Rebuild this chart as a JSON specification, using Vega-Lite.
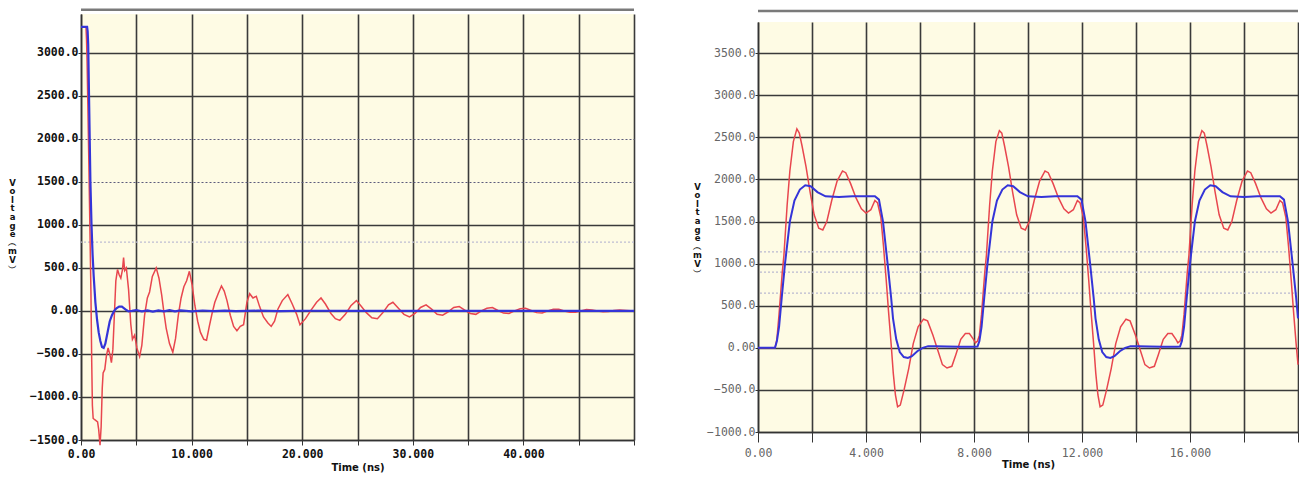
{
  "$schema": "https://vega.github.io/schema/vega-lite/v6.json",
  "padding": {"left": 7, "top": 8, "right": 0, "bottom": 0},
  "autosize": {"type": "pad"},
  "background": "white",
  "config": {"view": {"stroke": null, "fill": "#FEFBE4"}},
  "bounds": "flush",
  "center": true,
  "spacing": 124,
  "datasets": {
    "left": [
      {"t": 0, "v": 3300, "s": "red"}, {"t": 0.45, "v": 3300, "s": "red"}, {"t": 0.5, "v": 3150, "s": "red"}, {"t": 0.55, "v": 2900, "s": "red"},
      {"t": 0.62, "v": 2400, "s": "red"}, {"t": 0.7, "v": 1800, "s": "red"}, {"t": 0.8, "v": 1000, "s": "red"}, {"t": 0.9, "v": 200, "s": "red"},
      {"t": 0.97, "v": -600, "s": "red"}, {"t": 1.03, "v": -1100, "s": "red"}, {"t": 1.1, "v": -1250, "s": "red"}, {"t": 1.3, "v": -1270, "s": "red"},
      {"t": 1.5, "v": -1290, "s": "red"}, {"t": 1.6, "v": -1380, "s": "red"}, {"t": 1.72, "v": -1560, "s": "red"}, {"t": 1.82, "v": -1350, "s": "red"},
      {"t": 1.92, "v": -900, "s": "red"}, {"t": 2.0, "v": -720, "s": "red"}, {"t": 2.15, "v": -680, "s": "red"}, {"t": 2.3, "v": -520, "s": "red"},
      {"t": 2.45, "v": -430, "s": "red"}, {"t": 2.6, "v": -500, "s": "red"}, {"t": 2.75, "v": -600, "s": "red"}, {"t": 2.88, "v": -450, "s": "red"},
      {"t": 3.0, "v": -100, "s": "red"}, {"t": 3.15, "v": 350, "s": "red"}, {"t": 3.3, "v": 480, "s": "red"}, {"t": 3.45, "v": 420, "s": "red"},
      {"t": 3.6, "v": 380, "s": "red"}, {"t": 3.75, "v": 480, "s": "red"}, {"t": 3.85, "v": 620, "s": "red"}, {"t": 3.95, "v": 470, "s": "red"},
      {"t": 4.1, "v": 500, "s": "red"}, {"t": 4.3, "v": 250, "s": "red"}, {"t": 4.5, "v": -150, "s": "red"}, {"t": 4.65, "v": -330, "s": "red"},
      {"t": 4.85, "v": -280, "s": "red"}, {"t": 5.05, "v": -430, "s": "red"}, {"t": 5.3, "v": -530, "s": "red"}, {"t": 5.5, "v": -400, "s": "red"},
      {"t": 5.75, "v": -50, "s": "red"}, {"t": 6.0, "v": 150, "s": "red"}, {"t": 6.2, "v": 220, "s": "red"}, {"t": 6.45, "v": 400, "s": "red"},
      {"t": 6.8, "v": 500, "s": "red"}, {"t": 7.05, "v": 380, "s": "red"}, {"t": 7.3, "v": 180, "s": "red"}, {"t": 7.5, "v": -20, "s": "red"},
      {"t": 7.7, "v": -200, "s": "red"}, {"t": 8.0, "v": -380, "s": "red"}, {"t": 8.3, "v": -480, "s": "red"}, {"t": 8.55, "v": -320, "s": "red"},
      {"t": 8.8, "v": -50, "s": "red"}, {"t": 9.05, "v": 150, "s": "red"}, {"t": 9.3, "v": 280, "s": "red"}, {"t": 9.55, "v": 350, "s": "red"},
      {"t": 9.8, "v": 460, "s": "red"}, {"t": 10.05, "v": 300, "s": "red"}, {"t": 10.3, "v": 60, "s": "red"}, {"t": 10.55, "v": -120, "s": "red"},
      {"t": 10.8, "v": -250, "s": "red"}, {"t": 11.1, "v": -330, "s": "red"}, {"t": 11.35, "v": -340, "s": "red"}, {"t": 11.6, "v": -180, "s": "red"},
      {"t": 11.85, "v": -30, "s": "red"}, {"t": 12.1, "v": 100, "s": "red"}, {"t": 12.4, "v": 200, "s": "red"}, {"t": 12.7, "v": 290, "s": "red"},
      {"t": 12.95, "v": 230, "s": "red"}, {"t": 13.2, "v": 120, "s": "red"}, {"t": 13.5, "v": -50, "s": "red"}, {"t": 13.8, "v": -180, "s": "red"},
      {"t": 14.1, "v": -230, "s": "red"}, {"t": 14.4, "v": -180, "s": "red"}, {"t": 14.7, "v": -160, "s": "red"}, {"t": 15.0, "v": 100, "s": "red"},
      {"t": 15.25, "v": 200, "s": "red"}, {"t": 15.55, "v": 150, "s": "red"}, {"t": 15.85, "v": 170, "s": "red"}, {"t": 16.15, "v": 50, "s": "red"},
      {"t": 16.5, "v": -70, "s": "red"}, {"t": 16.9, "v": -140, "s": "red"}, {"t": 17.2, "v": -180, "s": "red"}, {"t": 17.5, "v": -120, "s": "red"},
      {"t": 17.8, "v": 20, "s": "red"}, {"t": 18.2, "v": 120, "s": "red"}, {"t": 18.7, "v": 190, "s": "red"}, {"t": 19.1, "v": 80, "s": "red"},
      {"t": 19.5, "v": -40, "s": "red"}, {"t": 19.8, "v": -160, "s": "red"}, {"t": 20.3, "v": -90, "s": "red"}, {"t": 20.8, "v": 10, "s": "red"},
      {"t": 21.3, "v": 100, "s": "red"}, {"t": 21.7, "v": 150, "s": "red"}, {"t": 22.1, "v": 80, "s": "red"}, {"t": 22.6, "v": -30, "s": "red"},
      {"t": 23.0, "v": -90, "s": "red"}, {"t": 23.4, "v": -110, "s": "red"}, {"t": 23.9, "v": -40, "s": "red"}, {"t": 24.4, "v": 60, "s": "red"},
      {"t": 24.9, "v": 120, "s": "red"}, {"t": 25.3, "v": 60, "s": "red"}, {"t": 25.8, "v": -20, "s": "red"}, {"t": 26.3, "v": -80, "s": "red"},
      {"t": 26.8, "v": -90, "s": "red"}, {"t": 27.3, "v": -20, "s": "red"}, {"t": 27.8, "v": 70, "s": "red"}, {"t": 28.2, "v": 100, "s": "red"},
      {"t": 28.7, "v": 30, "s": "red"}, {"t": 29.2, "v": -40, "s": "red"}, {"t": 29.7, "v": -70, "s": "red"}, {"t": 30.2, "v": -30, "s": "red"},
      {"t": 30.7, "v": 40, "s": "red"}, {"t": 31.2, "v": 70, "s": "red"}, {"t": 31.7, "v": 20, "s": "red"}, {"t": 32.2, "v": -40, "s": "red"},
      {"t": 32.7, "v": -50, "s": "red"}, {"t": 33.2, "v": -10, "s": "red"}, {"t": 33.7, "v": 40, "s": "red"}, {"t": 34.2, "v": 50, "s": "red"},
      {"t": 34.7, "v": 10, "s": "red"}, {"t": 35.2, "v": -30, "s": "red"}, {"t": 35.7, "v": -40, "s": "red"}, {"t": 36.2, "v": 0, "s": "red"},
      {"t": 36.7, "v": 30, "s": "red"}, {"t": 37.2, "v": 40, "s": "red"}, {"t": 37.7, "v": 5, "s": "red"}, {"t": 38.2, "v": -25, "s": "red"},
      {"t": 38.7, "v": -30, "s": "red"}, {"t": 39.2, "v": 0, "s": "red"}, {"t": 39.7, "v": 25, "s": "red"}, {"t": 40.2, "v": 30, "s": "red"},
      {"t": 40.7, "v": 5, "s": "red"}, {"t": 41.2, "v": -20, "s": "red"}, {"t": 41.7, "v": -25, "s": "red"}, {"t": 42.2, "v": 0, "s": "red"},
      {"t": 42.7, "v": 20, "s": "red"}, {"t": 43.2, "v": 20, "s": "red"}, {"t": 43.7, "v": 0, "s": "red"}, {"t": 44.2, "v": -15, "s": "red"},
      {"t": 44.7, "v": -15, "s": "red"}, {"t": 45.2, "v": 0, "s": "red"}, {"t": 45.7, "v": 15, "s": "red"}, {"t": 46.2, "v": 12, "s": "red"},
      {"t": 46.7, "v": 0, "s": "red"}, {"t": 47.2, "v": -10, "s": "red"}, {"t": 47.7, "v": -8, "s": "red"}, {"t": 48.2, "v": 5, "s": "red"},
      {"t": 48.7, "v": 10, "s": "red"}, {"t": 49.3, "v": 5, "s": "red"}, {"t": 50, "v": 0, "s": "red"},
      {"t": 0, "v": 3300, "s": "blue"}, {"t": 0.55, "v": 3300, "s": "blue"}, {"t": 0.6, "v": 3250, "s": "blue"}, {"t": 0.65, "v": 3100, "s": "blue"},
      {"t": 0.75, "v": 2300, "s": "blue"}, {"t": 0.85, "v": 1500, "s": "blue"}, {"t": 0.95, "v": 1000, "s": "blue"}, {"t": 1.05, "v": 650, "s": "blue"},
      {"t": 1.15, "v": 400, "s": "blue"}, {"t": 1.3, "v": 100, "s": "blue"}, {"t": 1.45, "v": -100, "s": "blue"}, {"t": 1.6, "v": -250, "s": "blue"},
      {"t": 1.75, "v": -350, "s": "blue"}, {"t": 1.9, "v": -420, "s": "blue"}, {"t": 2.05, "v": -430, "s": "blue"}, {"t": 2.2, "v": -380, "s": "blue"},
      {"t": 2.4, "v": -250, "s": "blue"}, {"t": 2.6, "v": -120, "s": "blue"}, {"t": 2.8, "v": -50, "s": "blue"}, {"t": 3.0, "v": 0, "s": "blue"},
      {"t": 3.2, "v": 30, "s": "blue"}, {"t": 3.45, "v": 50, "s": "blue"}, {"t": 3.7, "v": 50, "s": "blue"}, {"t": 3.9, "v": 30, "s": "blue"},
      {"t": 4.1, "v": 10, "s": "blue"}, {"t": 4.3, "v": -5, "s": "blue"}, {"t": 4.6, "v": 0, "s": "blue"}, {"t": 5, "v": 10, "s": "blue"},
      {"t": 5.5, "v": -5, "s": "blue"}, {"t": 6, "v": 5, "s": "blue"}, {"t": 6.5, "v": -8, "s": "blue"}, {"t": 7, "v": 6, "s": "blue"},
      {"t": 7.5, "v": -5, "s": "blue"}, {"t": 8, "v": 8, "s": "blue"}, {"t": 8.5, "v": -6, "s": "blue"}, {"t": 9, "v": 5, "s": "blue"},
      {"t": 10, "v": -5, "s": "blue"}, {"t": 11, "v": 5, "s": "blue"}, {"t": 12, "v": -3, "s": "blue"}, {"t": 13, "v": 4, "s": "blue"},
      {"t": 14, "v": -3, "s": "blue"}, {"t": 16, "v": 3, "s": "blue"}, {"t": 18, "v": -2, "s": "blue"}, {"t": 20, "v": 2, "s": "blue"},
      {"t": 25, "v": 0, "s": "blue"}, {"t": 30, "v": 0, "s": "blue"}, {"t": 35, "v": 0, "s": "blue"}, {"t": 40, "v": 0, "s": "blue"},
      {"t": 45, "v": 0, "s": "blue"}, {"t": 50, "v": 0, "s": "blue"}
    ],
    "right": [
      {"t": 0, "v": 0, "s": "blue"}, {"t": 0.63, "v": 0, "s": "blue"}, {"t": 0.7, "v": 80, "s": "blue"}, {"t": 0.78, "v": 250, "s": "blue"},
      {"t": 0.88, "v": 600, "s": "blue"}, {"t": 1.0, "v": 1000, "s": "blue"}, {"t": 1.18, "v": 1500, "s": "blue"}, {"t": 1.35, "v": 1750, "s": "blue"},
      {"t": 1.55, "v": 1880, "s": "blue"}, {"t": 1.75, "v": 1930, "s": "blue"}, {"t": 1.95, "v": 1920, "s": "blue"}, {"t": 2.2, "v": 1850, "s": "blue"},
      {"t": 2.5, "v": 1800, "s": "blue"}, {"t": 3.0, "v": 1790, "s": "blue"}, {"t": 3.5, "v": 1800, "s": "blue"}, {"t": 4.0, "v": 1800, "s": "blue"},
      {"t": 4.33, "v": 1800, "s": "blue"}, {"t": 4.48, "v": 1760, "s": "blue"}, {"t": 4.63, "v": 1500, "s": "blue"}, {"t": 4.8, "v": 1000, "s": "blue"},
      {"t": 4.93, "v": 600, "s": "blue"}, {"t": 5.0, "v": 350, "s": "blue"}, {"t": 5.12, "v": 100, "s": "blue"}, {"t": 5.25, "v": -50, "s": "blue"},
      {"t": 5.4, "v": -110, "s": "blue"}, {"t": 5.55, "v": -120, "s": "blue"}, {"t": 5.7, "v": -100, "s": "blue"}, {"t": 5.9, "v": -40, "s": "blue"},
      {"t": 6.1, "v": 0, "s": "blue"}, {"t": 6.3, "v": 20, "s": "blue"}, {"t": 6.6, "v": 20, "s": "blue"}, {"t": 7.0, "v": 15, "s": "blue"},
      {"t": 7.5, "v": 12, "s": "blue"}, {"t": 8.0, "v": 12, "s": "blue"}, {"t": 8.13, "v": 15, "s": "blue"},
      {"t": 8.2, "v": 80, "s": "blue"}, {"t": 8.28, "v": 250, "s": "blue"}, {"t": 8.38, "v": 600, "s": "blue"}, {"t": 8.5, "v": 1000, "s": "blue"},
      {"t": 8.68, "v": 1500, "s": "blue"}, {"t": 8.85, "v": 1750, "s": "blue"}, {"t": 9.05, "v": 1880, "s": "blue"}, {"t": 9.25, "v": 1930, "s": "blue"},
      {"t": 9.45, "v": 1920, "s": "blue"}, {"t": 9.7, "v": 1850, "s": "blue"}, {"t": 10.0, "v": 1800, "s": "blue"}, {"t": 10.5, "v": 1790, "s": "blue"},
      {"t": 11.0, "v": 1800, "s": "blue"}, {"t": 11.5, "v": 1800, "s": "blue"}, {"t": 11.83, "v": 1800, "s": "blue"}, {"t": 11.98, "v": 1760, "s": "blue"},
      {"t": 12.13, "v": 1500, "s": "blue"}, {"t": 12.3, "v": 1000, "s": "blue"}, {"t": 12.43, "v": 600, "s": "blue"}, {"t": 12.5, "v": 350, "s": "blue"},
      {"t": 12.62, "v": 100, "s": "blue"}, {"t": 12.75, "v": -50, "s": "blue"}, {"t": 12.9, "v": -110, "s": "blue"}, {"t": 13.05, "v": -120, "s": "blue"},
      {"t": 13.2, "v": -100, "s": "blue"}, {"t": 13.4, "v": -40, "s": "blue"}, {"t": 13.6, "v": 0, "s": "blue"}, {"t": 13.8, "v": 20, "s": "blue"},
      {"t": 14.1, "v": 20, "s": "blue"}, {"t": 14.5, "v": 15, "s": "blue"}, {"t": 15.0, "v": 12, "s": "blue"}, {"t": 15.5, "v": 12, "s": "blue"},
      {"t": 15.63, "v": 15, "s": "blue"},
      {"t": 15.7, "v": 80, "s": "blue"}, {"t": 15.78, "v": 250, "s": "blue"}, {"t": 15.88, "v": 600, "s": "blue"}, {"t": 16.0, "v": 1000, "s": "blue"},
      {"t": 16.18, "v": 1500, "s": "blue"}, {"t": 16.35, "v": 1750, "s": "blue"}, {"t": 16.55, "v": 1880, "s": "blue"}, {"t": 16.75, "v": 1930, "s": "blue"},
      {"t": 16.95, "v": 1920, "s": "blue"}, {"t": 17.2, "v": 1850, "s": "blue"}, {"t": 17.5, "v": 1800, "s": "blue"}, {"t": 18.0, "v": 1790, "s": "blue"},
      {"t": 18.5, "v": 1800, "s": "blue"}, {"t": 19.0, "v": 1800, "s": "blue"}, {"t": 19.33, "v": 1800, "s": "blue"}, {"t": 19.48, "v": 1760, "s": "blue"},
      {"t": 19.63, "v": 1500, "s": "blue"}, {"t": 19.8, "v": 1000, "s": "blue"}, {"t": 19.93, "v": 600, "s": "blue"}, {"t": 20.0, "v": 350, "s": "blue"},
      {"t": 0, "v": 0, "s": "red"}, {"t": 0.63, "v": 0, "s": "red"}, {"t": 0.7, "v": 100, "s": "red"}, {"t": 0.78, "v": 400, "s": "red"},
      {"t": 0.9, "v": 900, "s": "red"}, {"t": 0.96, "v": 1100, "s": "red"}, {"t": 1.08, "v": 1700, "s": "red"}, {"t": 1.18, "v": 2100, "s": "red"},
      {"t": 1.31, "v": 2450, "s": "red"}, {"t": 1.44, "v": 2600, "s": "red"}, {"t": 1.53, "v": 2550, "s": "red"}, {"t": 1.63, "v": 2400, "s": "red"},
      {"t": 1.78, "v": 2150, "s": "red"}, {"t": 1.93, "v": 1850, "s": "red"}, {"t": 2.08, "v": 1580, "s": "red"}, {"t": 2.25, "v": 1420, "s": "red"},
      {"t": 2.4, "v": 1400, "s": "red"}, {"t": 2.55, "v": 1500, "s": "red"}, {"t": 2.73, "v": 1750, "s": "red"}, {"t": 2.93, "v": 1980, "s": "red"},
      {"t": 3.13, "v": 2100, "s": "red"}, {"t": 3.25, "v": 2080, "s": "red"}, {"t": 3.43, "v": 1950, "s": "red"}, {"t": 3.63, "v": 1780, "s": "red"},
      {"t": 3.83, "v": 1650, "s": "red"}, {"t": 4.0, "v": 1600, "s": "red"}, {"t": 4.18, "v": 1640, "s": "red"}, {"t": 4.33, "v": 1750, "s": "red"},
      {"t": 4.43, "v": 1720, "s": "red"}, {"t": 4.55, "v": 1550, "s": "red"}, {"t": 4.65, "v": 1200, "s": "red"}, {"t": 4.75, "v": 800, "s": "red"},
      {"t": 4.83, "v": 450, "s": "red"}, {"t": 4.93, "v": 50, "s": "red"}, {"t": 5.01, "v": -300, "s": "red"}, {"t": 5.09, "v": -560, "s": "red"},
      {"t": 5.17, "v": -700, "s": "red"}, {"t": 5.27, "v": -680, "s": "red"}, {"t": 5.41, "v": -500, "s": "red"}, {"t": 5.58, "v": -250, "s": "red"},
      {"t": 5.75, "v": 50, "s": "red"}, {"t": 5.93, "v": 250, "s": "red"}, {"t": 6.13, "v": 340, "s": "red"}, {"t": 6.28, "v": 320, "s": "red"},
      {"t": 6.48, "v": 150, "s": "red"}, {"t": 6.68, "v": -50, "s": "red"}, {"t": 6.83, "v": -200, "s": "red"}, {"t": 7.0, "v": -240, "s": "red"},
      {"t": 7.18, "v": -220, "s": "red"}, {"t": 7.33, "v": -80, "s": "red"}, {"t": 7.51, "v": 100, "s": "red"}, {"t": 7.68, "v": 170, "s": "red"},
      {"t": 7.83, "v": 170, "s": "red"}, {"t": 7.98, "v": 100, "s": "red"}, {"t": 8.05, "v": 60, "s": "red"}, {"t": 8.13, "v": 80, "s": "red"},
      {"t": 8.2, "v": 150, "s": "red"}, {"t": 8.28, "v": 400, "s": "red"}, {"t": 8.4, "v": 900, "s": "red"}, {"t": 8.46, "v": 1100, "s": "red"},
      {"t": 8.58, "v": 1700, "s": "red"}, {"t": 8.68, "v": 2100, "s": "red"}, {"t": 8.81, "v": 2450, "s": "red"}, {"t": 8.94, "v": 2580, "s": "red"},
      {"t": 9.03, "v": 2550, "s": "red"}, {"t": 9.13, "v": 2400, "s": "red"}, {"t": 9.28, "v": 2150, "s": "red"}, {"t": 9.43, "v": 1850, "s": "red"},
      {"t": 9.58, "v": 1580, "s": "red"}, {"t": 9.75, "v": 1420, "s": "red"}, {"t": 9.9, "v": 1400, "s": "red"}, {"t": 10.05, "v": 1500, "s": "red"},
      {"t": 10.23, "v": 1750, "s": "red"}, {"t": 10.43, "v": 1980, "s": "red"}, {"t": 10.63, "v": 2100, "s": "red"}, {"t": 10.75, "v": 2080, "s": "red"},
      {"t": 10.93, "v": 1950, "s": "red"}, {"t": 11.13, "v": 1780, "s": "red"}, {"t": 11.33, "v": 1650, "s": "red"}, {"t": 11.5, "v": 1600, "s": "red"},
      {"t": 11.68, "v": 1640, "s": "red"}, {"t": 11.83, "v": 1750, "s": "red"}, {"t": 11.93, "v": 1720, "s": "red"}, {"t": 12.05, "v": 1550, "s": "red"},
      {"t": 12.15, "v": 1200, "s": "red"}, {"t": 12.25, "v": 800, "s": "red"}, {"t": 12.33, "v": 450, "s": "red"}, {"t": 12.43, "v": 50, "s": "red"},
      {"t": 12.51, "v": -300, "s": "red"}, {"t": 12.59, "v": -560, "s": "red"}, {"t": 12.67, "v": -700, "s": "red"}, {"t": 12.77, "v": -680, "s": "red"},
      {"t": 12.91, "v": -500, "s": "red"}, {"t": 13.08, "v": -250, "s": "red"}, {"t": 13.25, "v": 50, "s": "red"}, {"t": 13.43, "v": 250, "s": "red"},
      {"t": 13.63, "v": 340, "s": "red"}, {"t": 13.78, "v": 320, "s": "red"}, {"t": 13.98, "v": 150, "s": "red"}, {"t": 14.18, "v": -50, "s": "red"},
      {"t": 14.33, "v": -200, "s": "red"}, {"t": 14.5, "v": -240, "s": "red"}, {"t": 14.68, "v": -220, "s": "red"}, {"t": 14.83, "v": -80, "s": "red"},
      {"t": 15.01, "v": 100, "s": "red"}, {"t": 15.18, "v": 170, "s": "red"}, {"t": 15.33, "v": 170, "s": "red"}, {"t": 15.48, "v": 100, "s": "red"},
      {"t": 15.55, "v": 60, "s": "red"}, {"t": 15.63, "v": 80, "s": "red"},
      {"t": 15.7, "v": 150, "s": "red"}, {"t": 15.78, "v": 400, "s": "red"}, {"t": 15.9, "v": 900, "s": "red"}, {"t": 15.96, "v": 1100, "s": "red"},
      {"t": 16.08, "v": 1700, "s": "red"}, {"t": 16.18, "v": 2100, "s": "red"}, {"t": 16.31, "v": 2450, "s": "red"}, {"t": 16.44, "v": 2580, "s": "red"},
      {"t": 16.53, "v": 2550, "s": "red"}, {"t": 16.63, "v": 2400, "s": "red"}, {"t": 16.78, "v": 2150, "s": "red"}, {"t": 16.93, "v": 1850, "s": "red"},
      {"t": 17.08, "v": 1580, "s": "red"}, {"t": 17.25, "v": 1420, "s": "red"}, {"t": 17.4, "v": 1400, "s": "red"}, {"t": 17.55, "v": 1500, "s": "red"},
      {"t": 17.73, "v": 1750, "s": "red"}, {"t": 17.93, "v": 1980, "s": "red"}, {"t": 18.13, "v": 2100, "s": "red"}, {"t": 18.25, "v": 2080, "s": "red"},
      {"t": 18.43, "v": 1950, "s": "red"}, {"t": 18.63, "v": 1780, "s": "red"}, {"t": 18.83, "v": 1650, "s": "red"}, {"t": 19.0, "v": 1600, "s": "red"},
      {"t": 19.18, "v": 1640, "s": "red"}, {"t": 19.33, "v": 1750, "s": "red"}, {"t": 19.43, "v": 1720, "s": "red"}, {"t": 19.55, "v": 1550, "s": "red"},
      {"t": 19.65, "v": 1200, "s": "red"}, {"t": 19.75, "v": 800, "s": "red"}, {"t": 19.83, "v": 450, "s": "red"}, {"t": 19.93, "v": 50, "s": "red"},
      {"t": 20.0, "v": -200, "s": "red"}
    ]
  },
  "hconcat": [
    {
      "width": 553,
      "height": 426,
      "encoding": {
        "y": {
          "field": "v", "type": "quantitative",
          "scale": {"domain": [-1500, 3450], "nice": false, "zero": false},
          "axis": {
            "values": [-1500, -1000, -500, 0, 500, 1000, 1500, 2000, 2500, 3000],
            "labelExpr": "datum.value == 0 ? '0.00' : format(datum.value, '.1f')",
            "title": ["V", "o", "l", "t", "a", "g", "e", "︵", "m", "V", "︶"],
            "titleAngle": 0, "titleAlign": "center", "titleBaseline": "top",
            "titleX": -69, "titleY": 164, "titleFont": "DejaVu Sans", "titleFontWeight": "bold",
            "titleFontSize": 8.5, "titleLineHeight": 8.6, "titleColor": "#111",
            "labelFont": "DejaVu Sans Mono", "labelFontSize": 11.5, "labelFontWeight": "bold", "labelColor": "#111",
            "labelPadding": 0, "tickSize": 3, "tickColor": "#333", "domainColor": "#333", "domainWidth": 1.5,
            "gridColor": {"condition": {"test": "datum.value == 1500 || datum.value == 2000", "value": "#5c5c7c"}, "value": "#3a3a3a"},
            "gridDash": {"condition": {"test": "datum.value == 1500 || datum.value == 2000", "value": [2, 2]}, "value": []},
            "gridWidth": {"condition": {"test": "datum.value == 1500 || datum.value == 2000", "value": 1.2}, "value": 1.6},
            "labelOverlap": false
          }
        }
      },
      "layer": [
        {
          "data": {"values": [{"v": 800}]},
          "mark": {"type": "rule", "color": "#bdbdd2", "strokeDash": [2, 2], "strokeWidth": 1.2}
        },
        {
          "data": {"values": [{"v": 3500}]},
          "mark": {"type": "rule", "color": "#7a7a7a", "strokeWidth": 2.5}
        },
        {
          "data": {"name": "left"},
          "transform": [{"filter": "datum.s == 'red'"}],
          "mark": {"type": "line", "color": "#e8464e", "strokeWidth": 1.5},
          "encoding": {
            "x": {
              "field": "t", "type": "quantitative",
              "scale": {"domain": [0, 50], "nice": false, "zero": false},
              "axis": {
                "values": [0, 5, 10, 15, 20, 25, 30, 35, 40, 45, 50],
                "labelExpr": "datum.value == 0 ? '0.00' : (datum.value % 10 == 0 && datum.value < 50 ? format(datum.value, '.3f') : '')",
                "title": "Time (ns)", "titleFont": "DejaVu Sans", "titleFontWeight": "bold", "titleFontSize": 10, "titleColor": "#111",
                "titlePadding": 3,
                "labelFont": "DejaVu Sans Mono", "labelFontSize": 11.5, "labelFontWeight": "bold", "labelColor": "#111",
                "labelPadding": 3, "tickSize": 5, "tickColor": "#333", "domainColor": "#333", "domainWidth": 1.5,
                "gridColor": "#3a3a3a", "gridWidth": 1.6, "labelOverlap": false, "labelFlush": false
              }
            }
          }
        },
        {
          "data": {"name": "left"},
          "transform": [{"filter": "datum.s == 'blue'"}],
          "mark": {"type": "line", "color": "#3434d8", "strokeWidth": 2.2},
          "encoding": {"x": {"field": "t", "type": "quantitative"}}
        }
      ]
    },
    {
      "width": 540,
      "height": 410,
      "encoding": {
        "y": {
          "field": "v", "type": "quantitative",
          "scale": {"domain": [-1000, 3870], "nice": false, "zero": false},
          "axis": {
            "values": [-1000, -500, 0, 500, 1000, 1500, 2000, 2500, 3000, 3500],
            "labelExpr": "datum.value == 0 ? '0.00' : format(datum.value, '.1f')",
            "title": ["V", "o", "l", "t", "a", "g", "e", "︵", "m", "V", "︶"],
            "titleAngle": 0, "titleAlign": "center", "titleBaseline": "top",
            "titleX": -61, "titleY": 160, "titleFont": "DejaVu Sans", "titleFontWeight": "bold",
            "titleFontSize": 8.5, "titleLineHeight": 8.6, "titleColor": "#111",
            "labelFont": "DejaVu Sans Mono", "labelFontSize": 11.5, "labelColor": "#666",
            "labelPadding": 0, "tickSize": 3, "tickColor": "#333", "domainColor": "#333", "domainWidth": 1.5,
            "gridColor": "#3a3a3a", "gridWidth": 1.6, "labelOverlap": false
          }
        }
      },
      "layer": [
        {
          "data": {"values": [{"v": 650}, {"v": 900}, {"v": 1140}]},
          "mark": {"type": "rule", "color": "#b9b9cf", "strokeDash": [2, 2], "strokeWidth": 1.2}
        },
        {
          "data": {"values": [{"v": 4000}]},
          "mark": {"type": "rule", "color": "#7a7a7a", "strokeWidth": 2.5}
        },
        {
          "data": {"name": "right"},
          "transform": [{"filter": "datum.s == 'red'"}],
          "mark": {"type": "line", "color": "#e8464e", "strokeWidth": 1.5},
          "encoding": {
            "x": {
              "field": "t", "type": "quantitative",
              "scale": {"domain": [0, 20], "nice": false, "zero": false},
              "axis": {
                "values": [0, 2, 4, 6, 8, 10, 12, 14, 16, 18, 20],
                "labelExpr": "datum.value == 0 ? '0.00' : (datum.value % 4 == 0 && datum.value < 20 ? format(datum.value, '.3f') : '')",
                "title": "Time (ns)", "titleFont": "DejaVu Sans", "titleFontWeight": "bold", "titleFontSize": 10, "titleColor": "#111",
                "titlePadding": 1,
                "labelFont": "DejaVu Sans Mono", "labelFontSize": 11.5, "labelColor": "#666",
                "labelPadding": 5, "tickSize": 10, "tickColor": "#333", "domainColor": "#333", "domainWidth": 1.5,
                "gridColor": "#3a3a3a", "gridWidth": 1.6, "labelOverlap": false, "labelFlush": false
              }
            }
          }
        },
        {
          "data": {"name": "right"},
          "transform": [{"filter": "datum.s == 'blue'"}],
          "mark": {"type": "line", "color": "#3434d8", "strokeWidth": 2},
          "encoding": {"x": {"field": "t", "type": "quantitative"}}
        }
      ]
    }
  ]
}
